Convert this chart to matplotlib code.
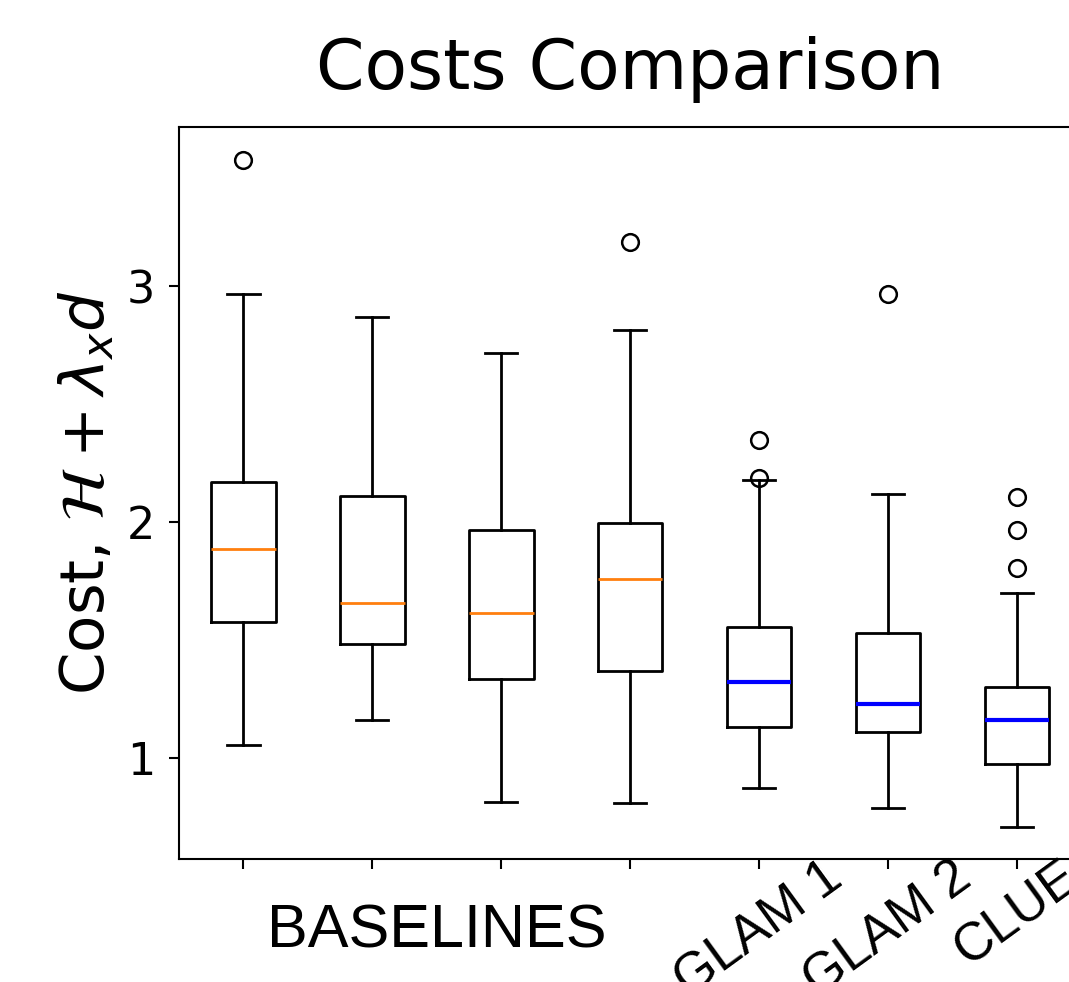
import matplotlib

matplotlib.use("Agg")
import matplotlib.pyplot as plt

# Box statistics (4 baselines + 3 proposed methods)
labels = ["", "", "", "", "GLAM 1", "GLAM 2", "CLUE"]
whislo = [1.055, 1.161, 0.814, 0.809, 0.873, 0.788, 0.708]
q1 = [1.576, 1.483, 1.335, 1.369, 1.131, 1.110, 0.975]
med = [1.886, 1.657, 1.614, 1.758, 1.322, 1.229, 1.161]
q3 = [2.169, 2.110, 1.966, 1.996, 1.555, 1.530, 1.301]
whishi = [2.966, 2.869, 2.716, 2.814, 2.178, 2.119, 1.699]
fliers = [[3.534], [], [], [3.186], [2.347, 2.186], [2.966], [2.106, 1.966, 1.805]]
n_baselines = 4

stats = [
    dict(label=labels[i], whislo=whislo[i], q1=q1[i], med=med[i], q3=q3[i],
         whishi=whishi[i], fliers=fliers[i])
    for i in range(len(labels))
]
positions = list(range(1, len(labels) + 1))

fig = plt.figure(figsize=(10.69, 9.82), dpi=100)
ax = fig.add_axes([0.1674, 0.1253, 0.8443, 0.7454])

black = dict(color="black", linewidth=2.0)
flierprops = dict(marker="o", markersize=12, markerfacecolor="none",
                  markeredgecolor="black", markeredgewidth=1.8)
common = dict(boxprops=black, whiskerprops=black, capprops=black,
              flierprops=flierprops, widths=0.5, manage_ticks=False)

ax.bxp(stats[:n_baselines], positions=positions[:n_baselines],
       medianprops=dict(color="#ff7f0e", linewidth=2.0), **common)
ax.bxp(stats[n_baselines:], positions=positions[n_baselines:],
       medianprops=dict(color="blue", linewidth=3.0), **common)

ax.set_xlim(0.5, len(labels) + 0.5)
ax.set_ylim(0.572, 3.674)
ax.set_yticks([1, 2, 3])
ax.set_xticks(positions)
ax.set_xticklabels(labels, rotation=36, fontsize=38, family="Liberation Sans")
ax.tick_params(axis="y", labelsize=32, length=7, width=1.5, pad=10)
ax.tick_params(axis="x", length=7, width=1.5, pad=-12)
for sp in ax.spines.values():
    sp.set_linewidth(1.5)

ax.text(2.5, -0.10, "BASELINES", transform=ax.get_xaxis_transform(),
        ha="center", va="center", fontsize=44, family="Liberation Sans")

ax.set_ylabel(r"Cost, $\mathcal{H} + \lambda_x d$", fontsize=44, labelpad=7)
ax.set_title("Costs Comparison", fontsize=50, pad=27)

fig.savefig("out.png", dpi=100)
